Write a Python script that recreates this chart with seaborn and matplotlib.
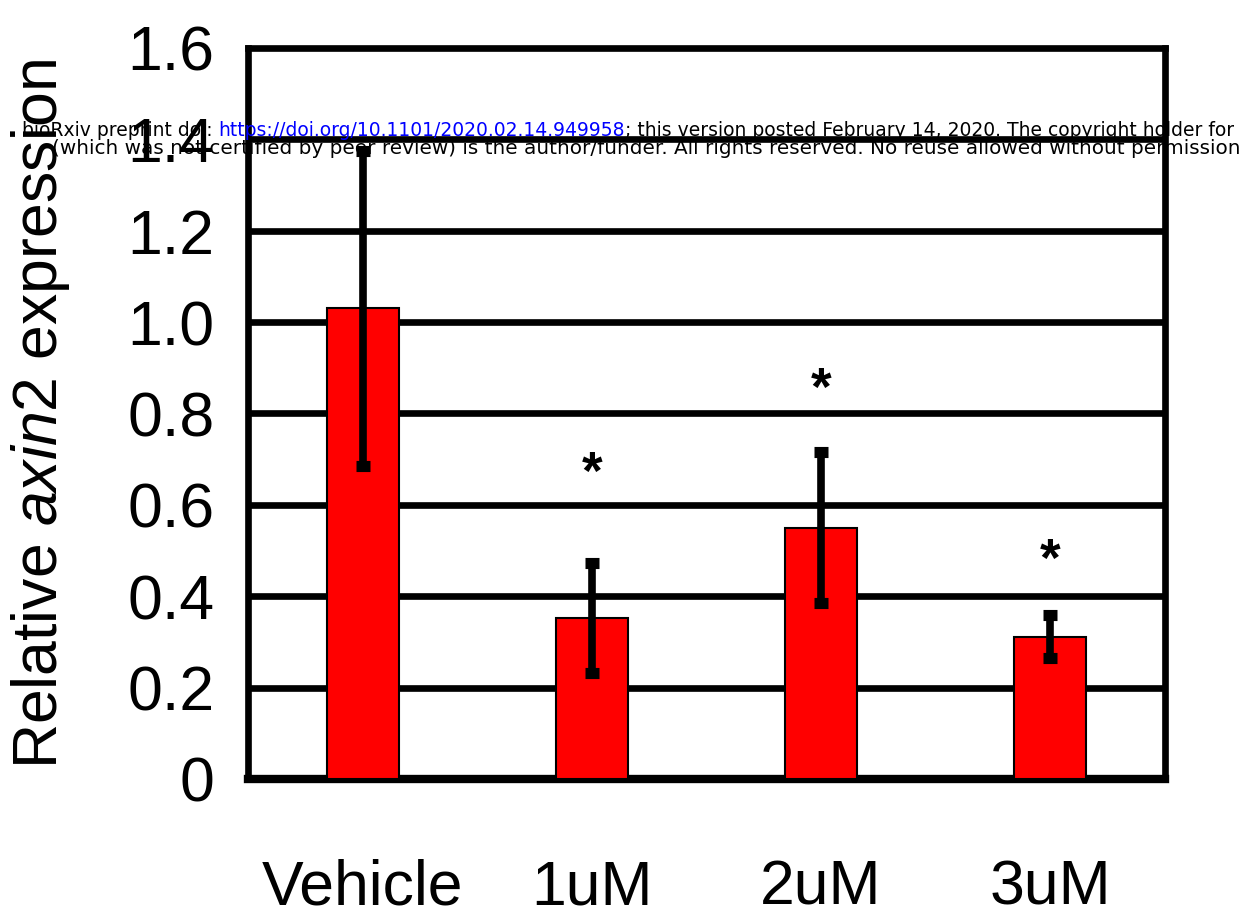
import matplotlib
matplotlib.use("Agg")
import matplotlib.pyplot as plt
import seaborn as sns
import pandas as pd

# data
groups = ["Vehicle", "1uM", "2uM", "3uM"]
means = [1.03, 0.353, 0.55, 0.311]
errs = [0.345, 0.12, 0.165, 0.047]
star_y = [None, 0.665, 0.85, 0.475]
yticks = [0, 0.2, 0.4, 0.6, 0.8, 1.0, 1.2, 1.4, 1.6]
ytick_labels = ["0", "0.2", "0.4", "0.6", "0.8", "1.0", "1.2", "1.4", "1.6"]

df = pd.DataFrame({"group": groups, "mean": means})

sns.set_style("white")
plt.rcParams["font.family"] = "Liberation Sans"
plt.rcParams["mathtext.fontset"] = "custom"
plt.rcParams["mathtext.rm"] = "Liberation Sans"
plt.rcParams["mathtext.it"] = "Liberation Sans:italic"
plt.rcParams["text.color"] = "black"

fig = plt.figure(figsize=(12.47, 9.16), dpi=100, facecolor="white")
ax = fig.add_axes([0.1989, 0.1496, 0.7353, 0.798])

sns.barplot(data=df, x="group", y="mean", color="#ff0000", edgecolor="black",
            linewidth=1.5, width=0.315, errorbar=None, saturation=1, ax=ax, zorder=3)
ax.errorbar(x=range(len(groups)), y=means, yerr=errs, fmt="none", ecolor="black",
            elinewidth=5.5, capsize=4.7, capthick=8, zorder=4)

for i, s in enumerate(star_y):
    if s is not None:
        ax.text(i, s, "*", ha="center", va="center", fontsize=38,
                fontweight="bold", color="black", zorder=5)

ax.set_xlim(-0.5, 3.5)
ax.set_ylim(0, 1.6)
ax.set_yticks(yticks)
ax.set_yticklabels(ytick_labels)
for y in yticks[1:-1]:
    ax.axhline(y, color="black", lw=4.8, zorder=1)

ax.tick_params(axis="both", length=0, labelsize=45, labelcolor="black")
ax.tick_params(axis="x", pad=57)
ax.tick_params(axis="y", pad=24)
ax.set_xlabel("")
ax.set_ylabel(r"Relative $\it{axin2}$ expression", fontsize=45, color="black")
ax.yaxis.set_label_coords(-0.192, 0.5)

for side in ["top", "left", "right"]:
    ax.spines[side].set_linewidth(4.8)
    ax.spines[side].set_color("black")
ax.spines["bottom"].set_linewidth(6)
ax.spines["bottom"].set_color("black")

# preprint watermark
wm_font = "DejaVu Sans"
t1 = fig.text(22 / 1247, 1 - 136 / 916, "bioRxiv preprint doi: ", fontsize=13.5,
              family=wm_font, color="black", va="baseline", zorder=10)
fig.canvas.draw()
bb = t1.get_window_extent()
t2 = fig.text(bb.x1 / 1247, 1 - 136 / 916, "https://doi.org/10.1101/2020.02.14.949958",
              fontsize=13.5, family=wm_font, color="blue", va="baseline", zorder=10)
fig.canvas.draw()
bb = t2.get_window_extent()
fig.text(bb.x1 / 1247, 1 - 136 / 916,
         "; this version posted February 14, 2020. The copyright holder for",
         fontsize=13.5, family=wm_font, color="black", va="baseline", zorder=10)
fig.text(1240 / 1247, 1 - 154 / 916,
         "(which was not certified by peer review) is the author/funder. All rights reserved. No reuse allowed without permission",
         fontsize=14.4, family=wm_font, color="black", ha="right", va="baseline", zorder=10)

plt.savefig("out.png", dpi=100)
